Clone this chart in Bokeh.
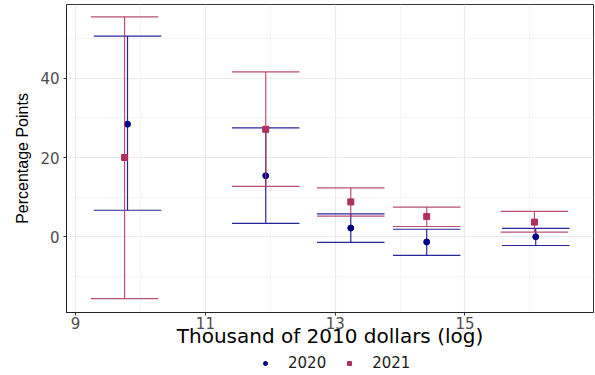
from bokeh.plotting import figure
from bokeh.layouts import column
from bokeh.models import FixedTicker, Legend, LegendItem, Range1d, ColumnDataSource
from bokeh.embed import file_html
from bokeh.resources import INLINE

# ---- data ----
years = ["2020", "2021"]
x_ticks = [9, 11, 13, 15]
y_ticks = [0, 20, 40]

x2020 = [9.80, 11.93, 13.24, 14.41, 16.09]
y2020 = [28.4, 15.4, 2.2, -1.3, 0.0]
lo2020 = [6.7, 3.4, -1.4, -4.7, -2.2]
hi2020 = [50.6, 27.5, 5.8, 1.9, 2.1]

x2021 = [9.755, 11.93, 13.24, 14.41, 16.07]
y2021 = [20.0, 27.1, 8.8, 5.1, 3.7]
lo2021 = [-15.6, 12.7, 5.2, 2.6, 1.2]
hi2021 = [55.5, 41.6, 12.35, 7.5, 6.4]

COL2020 = "#00008B"
COL2021 = "#B03060"
CAP_W = 1.04
W = 595

p = figure(width=W, height=350, output_backend="svg", toolbar_location=None,
           x_range=Range1d(8.86, 16.98), y_range=Range1d(-19.1, 58.6),
           min_border_left=66, min_border_right=2, min_border_top=4,
           min_border_bottom=38, background_fill_color="white",
           border_fill_color="white")

# grid
p.xaxis.ticker = FixedTicker(ticks=x_ticks, minor_ticks=[10, 12, 14, 16])
p.yaxis.ticker = FixedTicker(ticks=y_ticks, minor_ticks=[-10, 10, 30, 50])
for g in (p.xgrid, p.ygrid):
    g.grid_line_color = "#EBEBEB"
    g.grid_line_width = 1.2
    g.minor_grid_line_color = "#F2F2F2"
    g.minor_grid_line_width = 0.8

p.outline_line_color = "#333333"
p.outline_line_width = 1

for ax in (p.xaxis, p.yaxis):
    ax.axis_line_color = "#222222"
    ax.axis_line_width = 1
    ax.major_tick_line_color = "#333333"
    ax.major_tick_out = 3
    ax.major_tick_in = 0
    ax.minor_tick_line_color = None
    ax.major_label_text_font = "DejaVu Sans"
    ax.major_label_text_font_size = "15px"
    ax.major_label_text_color = "#4D4D4D"
    ax.axis_label_text_font_style = "normal"
    ax.axis_label_text_color = "black"

p.xaxis.axis_label = "Thousand of 2010 dollars (log)"
p.xaxis.axis_label_text_font = "DejaVu Sans"
p.xaxis.axis_label_text_font_size = "20px"
p.xaxis.axis_label_standoff = -8
p.xaxis.major_label_standoff = 0

p.yaxis.axis_label = "Percentage Points"
p.yaxis.axis_label_text_font = "Liberation Sans"
p.yaxis.axis_label_text_font_size = "16px"
p.yaxis.axis_label_standoff = 6
p.yaxis.major_label_standoff = 3


def draw(fig, xs, ys, lo, hi, color, marker):
    src = ColumnDataSource(dict(
        x=xs, y=ys, lo=lo, hi=hi,
        x0=[v - CAP_W / 2 for v in xs], x1=[v + CAP_W / 2 for v in xs]))
    fig.segment(x0="x", y0="lo", x1="x", y1="hi", source=src,
                line_color=color, line_width=1.2, line_alpha=0.85)
    fig.segment(x0="x0", y0="lo", x1="x1", y1="lo", source=src,
                line_color=color, line_width=1.2, line_alpha=0.85)
    fig.segment(x0="x0", y0="hi", x1="x1", y1="hi", source=src,
                line_color=color, line_width=1.2, line_alpha=0.85)
    return fig.scatter(x="x", y="y", source=src, marker=marker, size=6,
                       fill_color=color, line_color=color)


draw(p, x2020, y2020, lo2020, hi2020, COL2020, "circle")
draw(p, x2021, y2021, lo2021, hi2021, COL2021, "square")

# legend strip below the plot
lf = figure(width=W, height=25, output_backend="svg", toolbar_location=None,
            x_range=Range1d(8.86, 16.98), y_range=Range1d(100, 101),
            min_border_left=66, min_border_right=2, min_border_top=0,
            min_border_bottom=0, background_fill_color="white",
            border_fill_color="white")
lf.axis.visible = False
lf.grid.visible = False
lf.outline_line_color = None
l20 = lf.scatter(x=x2020, y=y2020, marker="circle", size=6,
                 fill_color=COL2020, line_color=COL2020)
l21 = lf.scatter(x=x2021, y=y2021, marker="square", size=6,
                 fill_color=COL2021, line_color=COL2021)
legend = Legend(items=[LegendItem(label=years[0], renderers=[l20]),
                       LegendItem(label=years[1], renderers=[l21])],
                orientation="horizontal", location=(194, 3),
                border_line_color=None, background_fill_alpha=0,
                glyph_width=10, glyph_height=12, label_standoff=18,
                spacing=18, padding=0, margin=0,
                label_text_font="DejaVu Sans", label_text_font_size="15px",
                label_text_color="#1A1A1A", label_height=12)
lf.add_layout(legend, "center")

page = column(p, lf, spacing=0)
open("out.html", "w").write(file_html(page, INLINE))
